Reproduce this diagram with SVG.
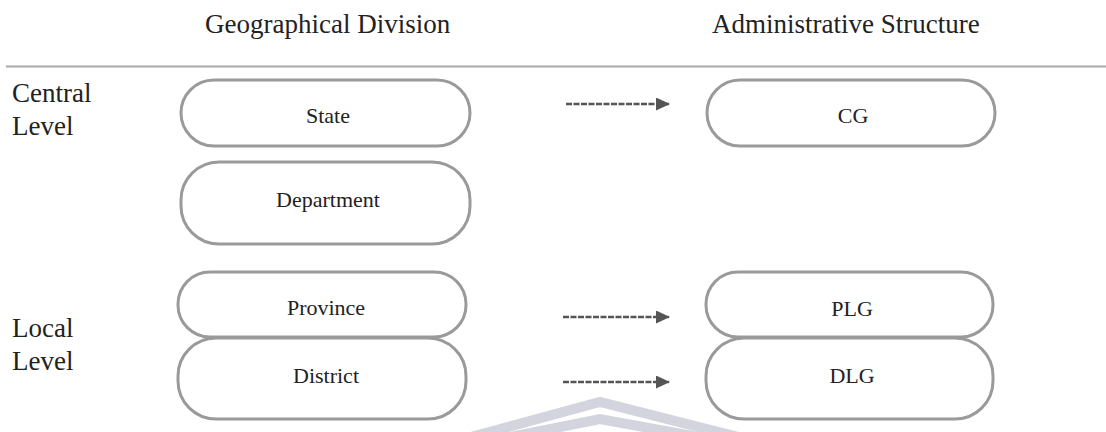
<svg xmlns="http://www.w3.org/2000/svg" width="1106" height="432" viewBox="0 0 1106 432">
<defs>
<style>
.hdr{font-family:"Liberation Serif","Times New Roman",serif;font-size:27px;fill:#222}
.lvl{font-family:"Liberation Serif","Times New Roman",serif;font-size:27px;fill:#222}
.box{fill:#fff;stroke:#9a9a9a;stroke-width:3}
.lbl{font-family:"Liberation Serif","Times New Roman",serif;font-size:22px;fill:#222;text-anchor:middle}
.arr{stroke:#555;stroke-width:2.5;stroke-dasharray:6 1.5;fill:none}
.wm{fill:none;stroke:#d4d4de;stroke-width:10}
</style>
<marker id="ah" viewBox="0 0 14 13" refX="13" refY="6.5" markerWidth="14" markerHeight="13" markerUnits="userSpaceOnUse" orient="auto">
<path d="M0,0 L14,6.5 L0,13 Z" fill="#555"/>
</marker>
</defs>
<rect width="1106" height="432" fill="#fff"/>
<g id="watermark">
<polyline class="wm" points="460,440 600,402 750,440"/>
<polyline class="wm" points="495,440 600,419 715,440"/>
</g>
<g id="headers">
<text class="hdr" x="205" y="33">Geographical Division</text>
<text class="hdr" x="712" y="33">Administrative Structure</text>
<line x1="6" y1="66.5" x2="1106" y2="66.5" stroke="#a8a8a8" stroke-width="2"/>
</g>
<g id="levels">
<text class="lvl" x="12" y="102">Central</text>
<text class="lvl" x="12" y="135">Level</text>
<text class="lvl" x="12" y="337">Local</text>
<text class="lvl" x="12" y="370">Level</text>
</g>
<g id="state"><rect class="box" x="181" y="80" width="289" height="66" rx="33"/><text class="lbl" x="328" y="123">State</text></g>
<g id="department"><rect class="box" x="181" y="162" width="289" height="82" rx="38"/><text class="lbl" x="328" y="207">Department</text></g>
<g id="province"><rect class="box" x="178" y="272" width="288" height="65" rx="32"/><text class="lbl" x="326" y="315">Province</text></g>
<g id="district"><rect class="box" x="178" y="338" width="288" height="81" rx="38"/><text class="lbl" x="326" y="383">District</text></g>
<g id="cg"><rect class="box" x="707" y="80" width="288" height="66" rx="33"/><text class="lbl" x="853" y="123">CG</text></g>
<g id="plg"><rect class="box" x="706" y="272" width="287" height="65" rx="32"/><text class="lbl" x="852" y="316">PLG</text></g>
<g id="dlg"><rect class="box" x="706" y="338" width="287" height="81" rx="38"/><text class="lbl" x="852" y="383">DLG</text></g>
<g id="connectors">
<line class="arr" x1="566" y1="104" x2="669" y2="104" marker-end="url(#ah)"/>
<line class="arr" x1="563" y1="317" x2="669" y2="317" marker-end="url(#ah)"/>
<line class="arr" x1="563" y1="382" x2="669" y2="382" marker-end="url(#ah)"/>
</g>
</svg>
